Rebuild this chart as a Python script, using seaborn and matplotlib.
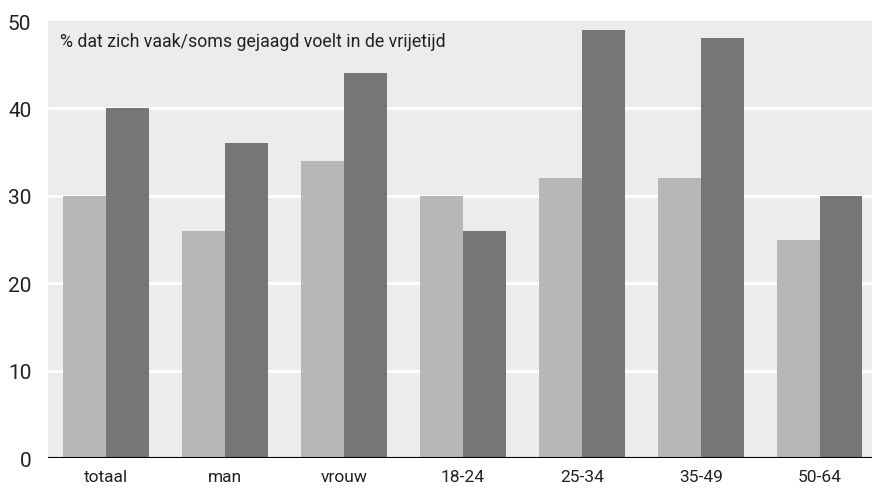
import pandas as pd
import matplotlib.pyplot as plt
import seaborn as sns

# Data
groepen = ['totaal', 'man', 'vrouw', '18-24', '25-34', '35-49', '50-64']
reeks_a = [30, 26, 34, 30, 32, 32, 25]
reeks_b = [40, 36, 44, 26, 49, 48, 30]
yticks = [0, 10, 20, 30, 40, 50]
titel = '% dat zich vaak/soms gejaagd voelt in de vrijetijd'

dados = pd.DataFrame({
    'groep': groepen * 2,
    'waarde': reeks_a + reeks_b,
    'reeks': ['a'] * len(groepen) + ['b'] * len(groepen),
})

sns.set_style("white")
plt.rcParams['font.family'] = ['Roboto', 'DejaVu Sans']

fig = plt.figure(figsize=(8.72, 4.89), dpi=100)
ax = fig.add_axes([0.055, 0.0613, 0.945, 0.8937])
ax.set_facecolor('#ebeceb')

sns.barplot(data=dados, x='groep', y='waarde', hue='reeks', order=groepen,
            palette=['#b7b7b7', '#767676'], width=0.72, saturation=1,
            linewidth=0, legend=False, ax=ax)

ax.set_ylim(0, 50)
ax.set_xlim(-0.49, 6.44)
ax.set_yticks(yticks)
for y in yticks[1:-1]:
    ax.axhline(y, color='white', lw=2, zorder=0.5)
ax.axhline(0, color='black', lw=1.5, zorder=3)

for s in ax.spines.values():
    s.set_visible(False)
ax.tick_params(axis='y', length=0, labelsize=15, pad=12, colors='#222222')
ax.tick_params(axis='x', length=0, labelsize=12.5, pad=8, colors='#222222')
ax.set_xlabel('')
ax.set_ylabel('')
ax.text(0.015, 0.975, titel, transform=ax.transAxes, ha='left', va='top',
        fontsize=12.8, color='#222222')

plt.savefig('out.png', dpi=100)
